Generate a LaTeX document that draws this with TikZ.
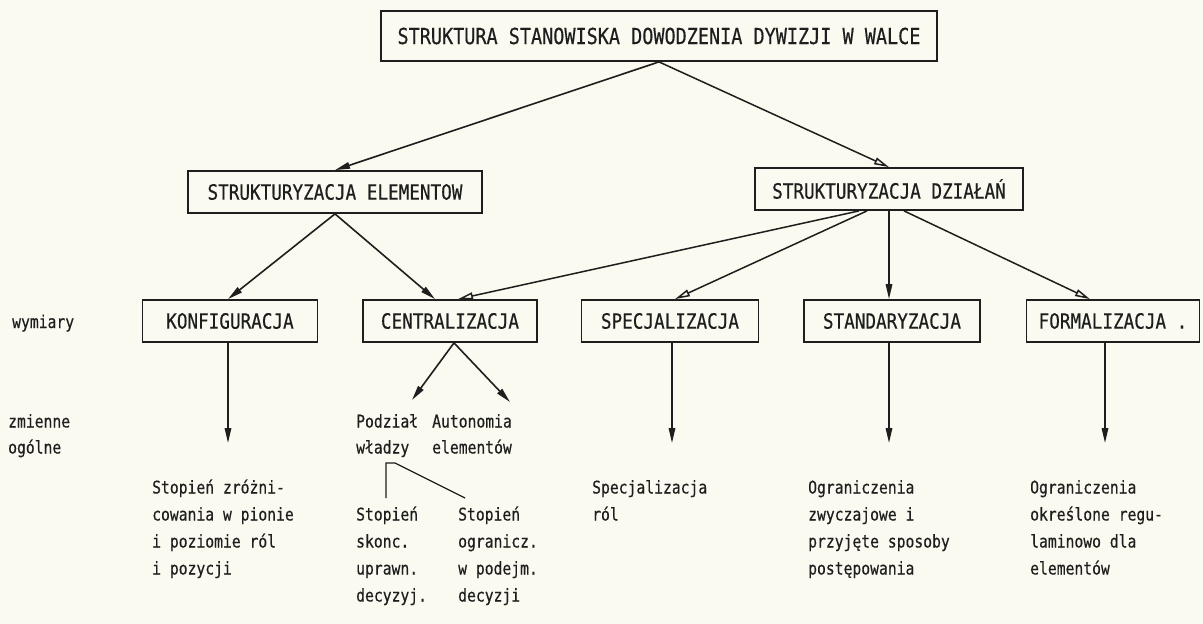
\documentclass[tikz,border=0pt]{standalone}
\usepackage{fontspec}
\newfontfamily\dm[FakeStretch=0.84,FakeBold=0.4]{DejaVu Sans Mono}
\usetikzlibrary{arrows.meta}
\definecolor{paper}{RGB}{250,250,240}
\definecolor{ink}{RGB}{30,30,30}
\begin{document}
\begin{tikzpicture}[x=1pt,y=-1pt,
  box/.style={draw=ink, line width=1.8pt, text=ink, inner sep=0pt, minimum height=42pt,
              font=\dm\fontsize{21}{21}\selectfont},
  lab/.style={text=ink, inner sep=0pt, anchor=base west, font=\dm\fontsize{17.5}{17.5}\selectfont},
  arr/.style={draw=ink, line width=1.5pt, -{Triangle[open,length=15pt,width=7pt]}},
  farr/.style={draw=ink, line width=1.6pt, -{Triangle[length=15pt,width=6.5pt]}},
  thinline/.style={draw=ink, line width=1.2pt}]
\fill[paper] (0,0) rectangle (1203,624);
\useasboundingbox (0,0) rectangle (1203,624);

% boxes
\node[box, minimum width=556pt, minimum height=50pt, font=\dm\fontsize{22}{22}\selectfont] (title) at (659,36) {STRUKTURA STANOWISKA DOWODZENIA DYWIZJI W WALCE};
\node[box, minimum width=294pt] (elem) at (335,192) {STRUKTURYZACJA ELEMENTOW};
\node[box, minimum width=268pt] (dzial) at (889,189) {STRUKTURYZACJA DZIAŁAŃ};
\node[box, minimum width=175pt] (konf) at (230,321) {KONFIGURACJA};
\node[box, minimum width=174pt] (centr) at (450,321) {CENTRALIZACJA};
\node[box, minimum width=177pt] (spec) at (670,321) {SPECJALIZACJA};
\node[box, minimum width=176pt] (stand) at (892,321) {STANDARYZACJA};
\node[box, minimum width=173pt] (form) at (1113,321) {FORMALIZACJA .};
\node[lab] (wym) at (12,328) {wymiary};

% arrows between boxes
\draw[farr] (title.south) -- (elem.north);
\draw[arr] (title.south) -- (dzial.north);
\draw[farr] (elem.south) -- ([xshift=-2pt]konf.north);
\draw[farr] (elem.south) -- ([xshift=-15pt]centr.north);
\draw[arr] ([xshift=-30pt]dzial.south) -- ([xshift=8pt]centr.north);
\draw[arr] ([xshift=-22pt]dzial.south) -- ([xshift=5pt]spec.north);
\draw[farr] (dzial.south) -- ([xshift=-3pt]stand.north);
\draw[arr] ([xshift=15pt]dzial.south) -- ([xshift=-23pt]form.north);

% arrow ends below
\coordinate (kend) at (228,443);
\coordinate (send) at (672,443);
\coordinate (tend) at (889,443);
\coordinate (fend) at (1105,443);
\coordinate (pend) at (412,400);
\coordinate (aend) at (510,402);
\draw[farr] (konf.south -| kend) -- (kend);
\draw[farr] (spec.south -| send) -- (send);
\draw[farr] (stand.south -| tend) -- (tend);
\draw[farr] (form.south -| fend) -- (fend);
\draw[farr] ([xshift=4pt]centr.south) -- (pend);
\draw[farr] ([xshift=4pt]centr.south) -- (aend);

% left labels
\node[lab] (zm) at (8,427.5) {zmienne};
\node[lab] (og) at (8,453.5) {ogólne};

% centralizacja sub-labels
\node[lab] (pod) at (356,427.5) {Podział};
\node[lab] (wla) at (356,453.5) {władzy};
\node[lab] (aut) at (432,427.5) {Autonomia};
\node[lab] (ele) at (432,453.5) {elementów};

% bracket
\coordinate (b1) at (386,498);
\coordinate (b2) at (386,463);
\coordinate (b3) at (395,463);
\coordinate (b4) at (465,498);
\draw[thinline] (b1) -- (b2) -- (b3) -- (b4);

% bottom texts (rows a..e)
\node[lab] (k1) at (152,493.5) {Stopień zróżni-};
\node[lab] (k2) at (152,520.5) {cowania w pionie};
\node[lab] (k3) at (152,547.5) {i poziomie ról};
\node[lab] (k4) at (152,574.5) {i pozycji};

\node[lab] (c1) at (356,520.5) {Stopień};
\node[lab] (c2) at (356,547.5) {skonc.};
\node[lab] (c3) at (356,574.5) {uprawn.};
\node[lab] (c4) at (356,601.5) {decyzyj.};

\node[lab] (d1) at (458,520.5) {Stopień};
\node[lab] (d2) at (458,547.5) {ogranicz.};
\node[lab] (d3) at (458,574.5) {w podejm.};
\node[lab] (d4) at (458,601.5) {decyzji};

\node[lab] (s1) at (592,493.5) {Specjalizacja};
\node[lab] (s2) at (592,520.5) {ról};

\node[lab] (t1) at (808,493.5) {Ograniczenia};
\node[lab] (t2) at (808,520.5) {zwyczajowe i};
\node[lab] (t3) at (808,547.5) {przyjęte sposoby};
\node[lab] (t4) at (808,574.5) {postępowania};

\node[lab] (f1) at (1030,493.5) {Ograniczenia};
\node[lab] (f2) at (1030,520.5) {określone regu-};
\node[lab] (f3) at (1030,547.5) {laminowo dla};
\node[lab] (f4) at (1030,574.5) {elementów};
\end{tikzpicture}
\end{document}
